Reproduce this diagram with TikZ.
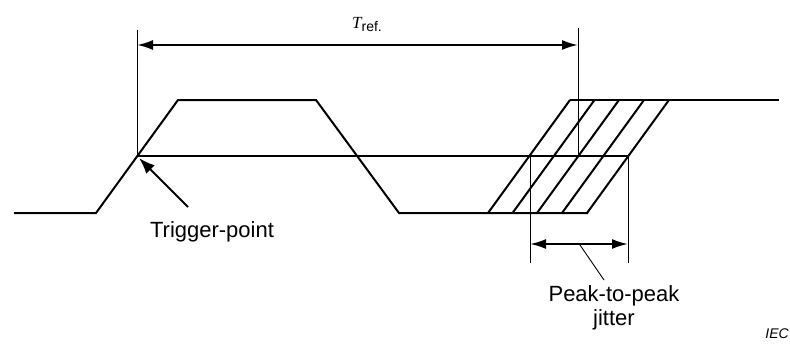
\documentclass[tikz,border=0pt]{standalone}
\usepackage{amsmath}
\usepackage{fontspec}
\setmainfont{Liberation Sans}
\newfontfamily\tfont{Liberation Serif}
\usetikzlibrary{arrows.meta}

\begin{document}
\begin{tikzpicture}[x=1pt,y=-1pt,
    signal/.style={line width=2pt, line join=miter},
    marker/.style={line width=0.9pt},
    dimarrow/.style={line width=2pt, {Latex[length=16pt,width=10pt]}-{Latex[length=16pt,width=10pt]}},
    label/.style={font=\fontsize{22}{24}\selectfont, align=center, inner sep=0pt}]
    \useasboundingbox (0,0) rectangle (790,343);
    % waveform with jittered rising edge
    \draw[signal] (14,213) -- (96,213) -- (178,100) -- (316,100) -- (399,213) -- (588,213);
    \draw[signal] (570,100) -- (779,100);
    \foreach \x in {488,512.5,537,562,587}
        \draw[signal] (\x,213) -- ++(82,-113);
    % threshold
    \coordinate (trig) at (137,156);
    \coordinate (jl) at (530,156);
    \coordinate (jr) at (628,156);
    \draw[signal] (trig) -- (jr);
    % reference period
    \coordinate (reftop) at (578,28);
    \coordinate (refbot) at (578,156);
    \draw[marker] (137,30) -- (trig);
    \draw[marker] (reftop) -- (refbot);
    \draw[dimarrow] (137,45) -- (578,45);
    \node[inner sep=0pt, anchor=base west] (tref) at (352,28)
        {{\fontsize{17}{19}\selectfont\tfont\itshape T}{\fontsize{14}{16}\selectfont\raisebox{-3pt}{ref.}}};
    % trigger point
    \node[label, anchor=base] (trigtext) at (212,237) {Trigger-point};
    \coordinate (trigtail) at (188,207);
    \draw[signal, -{Latex[length=16pt,width=12pt]}, shorten >=3pt] (trigtail) -- (trig);
    % peak-to-peak jitter
    \coordinate (jlb) at (530,263);
    \coordinate (jrb) at (628,263);
    \draw[marker] (jl) -- (jlb);
    \draw[marker] (jr) -- (jrb);
    \draw[dimarrow] (530,244) -- (628,244);
    \node[label, anchor=north] (jitter) at (614,285) {Peak-to-peak\\jitter};
    \coordinate (leadbot) at (580,245);
    \coordinate (leadtop) at (604,280);
    \draw[marker] (leadbot) -- (leadtop);
    \node[font=\fontsize{14}{16}\selectfont\itshape, inner sep=0pt, anchor=base east] (iec) at (789,338) {IEC};
\end{tikzpicture}
\end{document}
